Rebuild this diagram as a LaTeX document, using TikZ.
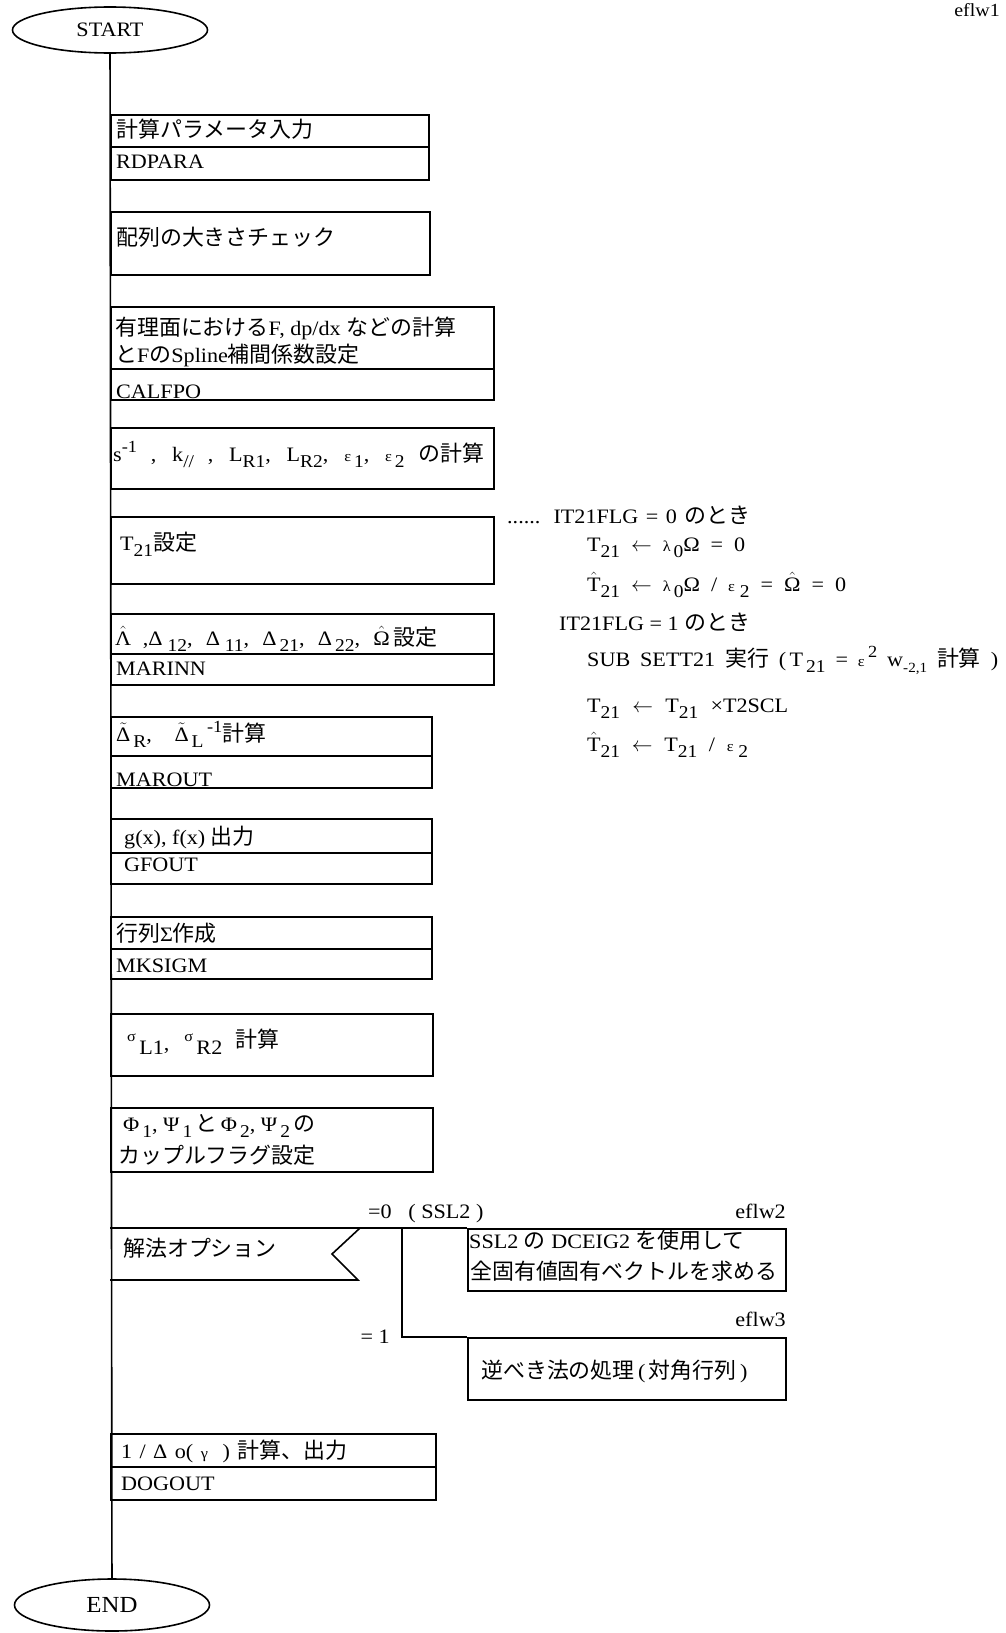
\documentclass[tikz,border=0pt]{standalone}
\usepackage{fontspec}
\setmainfont{Liberation Serif}[FakeStretch=1.08]
\newfontfamily\cjkf{Noto Sans CJK JP}[Scale=1.07]
\usetikzlibrary{shapes.geometric}
\newcommand\jp[1]{{\cjkf #1}}
\newcommand\msz{\fontsize{20.5}{24}\selectfont}
\newcommand\mysb[1]{\raisebox{-0.34em}{\fontsize{18}{18}\selectfont #1}}
\newcommand\mysp[1]{\raisebox{0.42em}{\fontsize{17}{17}\selectfont #1}}
\newcommand\mysm[1]{{\fontsize{15}{15}\selectfont #1}}
\newcommand\myhat[1]{\ensuremath{\hat{\mbox{#1}}}}
\newcommand\mytil[1]{\ensuremath{\tilde{\mbox{#1}}}}
\newcommand\spread[2]{\makebox[#1pt][s]{#2}}
\tikzset{
  ln/.style={line width=1.6pt},
  bx/.style={draw, line width=1.6pt, inner sep=0pt, anchor=north west},
  tx/.style={anchor=base west, inner sep=0pt, font=\msz},
  txr/.style={anchor=base east, inner sep=0pt, font=\msz},
  term/.style={draw, ellipse, line width=1.6pt, inner sep=0pt, font=\msz},
}
\begin{document}
\begin{tikzpicture}[x=1pt, y=-1pt, line join=miter]
\path[fill=white, use as bounding box] (0,0) rectangle (1006,1633);

% terminals and main line
\node[term, minimum width=195, minimum height=46] (st) at (110,30) {START};
\node[term, minimum width=195, minimum height=52, font=\fontsize{23}{26}\selectfont] (en) at (112,1605) {END};
\draw[ln] (st) -- (en);

\node[txr, font=\fontsize{18.5}{22}\selectfont] (ef1) at (1000,16) {eflw1};

% boxes
\node[bx, minimum width=318, minimum height=32] (b1a) at (110,114) {};
\node[bx, minimum width=318, minimum height=33] (b1b) at (110,146) {};
\node[bx, minimum width=319, minimum height=63] (b2)  at (110,211) {};
\node[bx, minimum width=383, minimum height=62] (b3a) at (110,306) {};
\node[bx, minimum width=383, minimum height=31] (b3b) at (110,368) {};
\node[bx, minimum width=383, minimum height=61] (b4)  at (110,427) {};
\node[bx, minimum width=383, minimum height=67] (b5)  at (110,516) {};
\node[bx, minimum width=383, minimum height=40] (b6a) at (110,613) {};
\node[bx, minimum width=383, minimum height=31] (b6b) at (110,653) {};
\node[bx, minimum width=321, minimum height=39] (b7a) at (110,716) {};
\node[bx, minimum width=321, minimum height=32] (b7b) at (110,755) {};
\node[bx, minimum width=321, minimum height=34] (b8a) at (110,818) {};
\node[bx, minimum width=321, minimum height=31] (b8b) at (110,852) {};
\node[bx, minimum width=321, minimum height=32] (b9a) at (110,916) {};
\node[bx, minimum width=321, minimum height=30] (b9b) at (110,948) {};
\node[bx, minimum width=322, minimum height=62] (b10) at (110,1013) {};
\node[bx, minimum width=322, minimum height=64] (b11) at (110,1107) {};
\node[bx, minimum width=318, minimum height=62] (s1)  at (467,1228) {};
\node[bx, minimum width=318, minimum height=62] (s2)  at (467,1337) {};
\node[bx, minimum width=325, minimum height=33] (b12a) at (110,1433) {};
\node[bx, minimum width=325, minimum height=33] (b12b) at (110,1466) {};

% decision
\draw[ln] (110,1228) -- (360,1228) -- (332,1254) -- (358,1280) -- (110,1280);
\coordinate (decne) at (360,1228);
\coordinate (brk) at (402,1228);
\draw[ln] (decne) -- (s1.north west);
\draw[ln] (brk) |- (s2.north west);

% box texts
\node[tx] (t1a) at (116,137) {\jp{計算パラメータ入力}};
\node[tx] (t1b) at (116,168) {RDPARA};
\node[tx] (t2) at (116,245) {\jp{配列の大きさチェック}};
\node[tx] (t3a) at (115,335) {\jp{有理面における}F, dp/dx\hspace{6pt}\jp{などの計算}};
\node[tx] (t3b) at (115,362) {\jp{と}F\jp{の}Spline\jp{補間係数設定}};
\node[tx] (t3c) at (116,398) {CALFPO};
\node[tx] (t4) at (113,461) {\spread{371}{s\mysp{-1} , k\mysb{//} , L\mysb{R1}, L\mysb{R2}, \mysm{ε}\mysb{\,1}, \mysm{ε}\mysb{\,2} \jp{の計算}}};
\node[tx] (t5) at (120,550) {T\mysb{21}\jp{設定}};
\node[tx] (t6a) at (115,645) {\spread{322}{\myhat{Λ} ,Δ\mysb{\ 12}, Δ\mysb{\ 11}, Δ\mysb{\,21}, Δ\mysb{\,22}, \myhat{Ω}\,\jp{設定}}};
\node[tx] (t6b) at (116,675) {MARINN};
\node[tx] (t7a) at (116,741) {\spread{150}{\mytil{Δ}\mysb{\,R}, \mytil{Δ}\mysb{\,L}\,\mysp{-1}\jp{計算}}};
\node[tx] (t7b) at (116,786) {MAROUT};
\node[tx] (t8a) at (124,844) {g(x), f(x) \jp{出力}};
\node[tx] (t8b) at (124,871) {GFOUT};
\node[tx] (t9a) at (116,941) {\jp{行列}Σ\jp{作成}};
\node[tx] (t9b) at (116,972) {MKSIGM};
\node[tx] (t10) at (127,1050) {\spread{152}{\raisebox{0.4em}{\mysm{σ}}\,\raisebox{-0.2em}{L1}, \raisebox{0.4em}{\mysm{σ}}\,\raisebox{-0.2em}{R2} \raisebox{0.1em}{\jp{計算}}}};
\node[tx] (t11a) at (123,1131) {Φ\mysb{\,1}, Ψ\mysb{\,1}\,\jp{と}\,Φ\mysb{\,2}, Ψ\mysb{\,2}\,\jp{の}};
\node[tx] (t11b) at (118,1163) {\jp{カップルフラグ設定}};
\node[tx] (td) at (123,1256) {\jp{解法オプション}};
\node[tx] (ts1a) at (469,1248) {SSL2 \jp{の} DCEIG2 \jp{を使用して}};
\node[tx] (ts1b) at (470,1279) {\jp{全固有値固有ベクトルを求める}};
\node[tx] (ts2) at (481,1378) {\jp{逆べき法の処理}\,(\,\jp{対角行列}\,)};
\node[tx] (t12a) at (121,1458) {\spread{226}{1 / Δ o( \mysm{γ} \ ) \jp{計算、出力}}};
\node[tx] (t12b) at (121,1490) {DOGOUT};

% branch labels
\node[tx] (l0) at (368,1218) {=0\ \ \ ( SSL2 )};
\node[txr] (ef2) at (786,1218) {eflw2};
\node[txr] (ef3) at (786,1326) {eflw3};
\node[txr] (l1) at (390,1343) {= 1};

% notes on T21
\node[tx] (n1) at (507,523) {\spread{243}{...... IT21FLG = 0 \jp{のとき}}};
\node[tx] (n2) at (587,551) {\spread{158}{T\mysb{21} \ensuremath{\leftarrow} \mysm{λ}\mysb{\,0}Ω = 0}};
\node[tx] (n3) at (587,591) {\spread{259}{\myhat{T}\mysb{21} \ensuremath{\leftarrow} \mysm{λ}\mysb{\,0}Ω / \mysm{ε}\mysb{\ 2} = \myhat{Ω} = 0}};
\node[tx] (n4) at (559,630) {IT21FLG = 1 \jp{のとき}};
\node[tx] (n5) at (587,666) {\spread{411}{SUB SETT21 \jp{実行} (\,T\mysb{\,21} = \mysm{ε}\,\mysp{2} w\mysb{\fontsize{14}{14}\selectfont -2,1} \jp{計算} )}};
\node[tx] (n6) at (587,712) {\spread{201}{T\mysb{21} \ensuremath{\leftarrow} T\mysb{21} ×T2SCL}};
\node[tx] (n7) at (587,751) {\spread{161}{\myhat{T}\mysb{21} \ensuremath{\leftarrow} T\mysb{21} / \mysm{ε}\mysb{\ 2}}};
\end{tikzpicture}
\end{document}
